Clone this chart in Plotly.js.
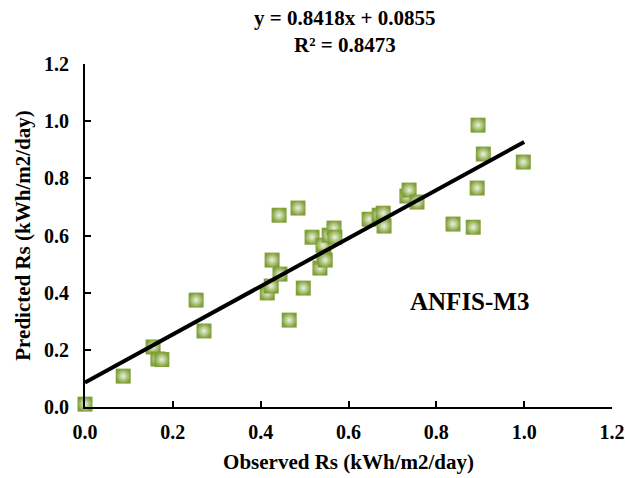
<!DOCTYPE html>
<html>
<head>
<meta charset="utf-8">
<script src="https://cdn.plot.ly/plotly-3.0.1.min.js"></script>
<style>html,body{margin:0;padding:0;background:#fff;}#chart{width:625px;height:478px;}</style>
</head>
<body>
<div id="chart"></div>
<script>
var observed = [0.00, 0.087, 0.155, 0.166, 0.175, 0.253, 0.271,
  0.415, 0.424, 0.426, 0.442, 0.444, 0.465, 0.485, 0.497,
  0.517, 0.535, 0.542, 0.544, 0.547, 0.556, 0.567, 0.569,
  0.647, 0.670, 0.679, 0.681, 0.733, 0.738, 0.756,
  0.838, 0.884, 0.893, 0.895, 0.907, 0.998];
var predicted = [0.01, 0.108, 0.21, 0.168, 0.166, 0.374, 0.266,
  0.399, 0.423, 0.514, 0.671, 0.465, 0.304, 0.696, 0.416,
  0.594, 0.486, 0.566, 0.524, 0.514, 0.601, 0.626, 0.594,
  0.657, 0.671, 0.678, 0.633, 0.738, 0.759, 0.717,
  0.640, 0.629, 0.766, 0.986, 0.885, 0.857];
var slope = 0.8418;
var intercept = 0.0855;
var fitX = [0, 1.0];
var fitY = fitX.map(function(x){ return slope * x + intercept; });
var tickVals = [0, 0.2, 0.4, 0.6, 0.8, 1.0, 1.2];
var tickText = ['0.0', '0.2', '0.4', '0.6', '0.8', '1.0', '1.2'];

var font = 'Liberation Serif, Times New Roman, serif';

var traces = [
  {
    x: observed, y: predicted, type: 'scatter', mode: 'markers',
    cliponaxis: false,
    marker: {symbol: 'square', size: 15, color: '#7f9f38',
      gradient: {type: 'radial', color: '#eaf3da'},
      line: {width: 0}},
    hoverinfo: 'skip'
  },
  {
    x: fitX, y: fitY, type: 'scatter', mode: 'lines',
    cliponaxis: false,
    line: {color: '#000', width: 4}
  }
];

var axisCommon = {
  range: [0, 1.2], tickvals: tickVals, ticktext: tickText,
  showgrid: false, zeroline: false, showline: true,
  linecolor: '#000', linewidth: 2, ticks: 'inside', ticklen: 6,
  tickwidth: 2, tickcolor: '#000',
  tickfont: {family: font, size: 20, color: '#000', weight: 'bold'}
};

var layout = {
  width: 625, height: 478,
  margin: {l: 85, r: 13, t: 64, b: 71},
  paper_bgcolor: '#fff', plot_bgcolor: '#fff',
  showlegend: false,
  font: {family: font, color: '#000'},
  xaxis: Object.assign({}, axisCommon, {
    ticklabelstandoff: 6,
    title: {text: '<b>Observed Rs (kWh/m2/day)</b>', font: {family: font, size: 21, color: '#000'}, standoff: 12}
  }),
  yaxis: Object.assign({}, axisCommon, {
    ticklabelstandoff: 10,
    title: {text: '<b>Predicted Rs (kWh/m2/day)</b>', font: {family: font, size: 21, color: '#000'}, standoff: 8}
  }),
  annotations: [
    {
      x: 0.493, y: 1.134, xref: 'paper', yref: 'paper', xanchor: 'center', yanchor: 'middle',
      showarrow: false, text: '<b>y = 0.8418x + 0.0855</b>',
      font: {family: font, size: 21, color: '#000'}
    },
    {
      x: 0.493, y: 1.055, xref: 'paper', yref: 'paper', xanchor: 'center', yanchor: 'middle',
      showarrow: false, text: '<b>R² = 0.8473</b>',
      font: {family: font, size: 21, color: '#000'}
    },
    {
      x: 0.875, y: 0.37, xref: 'x', yref: 'y', showarrow: false,
      text: '<b>ANFIS-M3</b>',
      font: {family: font, size: 25, color: '#000'}
    }
  ]
};

Plotly.newPlot('chart', traces, layout, {displayModeBar: false, staticPlot: true});
</script>
</body>
</html>
